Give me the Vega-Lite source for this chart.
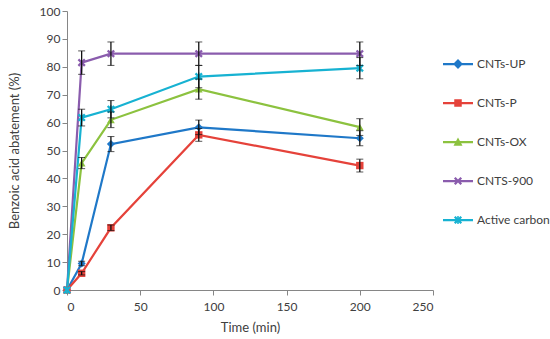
{
  "$schema": "https://vega.github.io/schema/vega-lite/v6.json",
  "autosize": {"type": "none"},
  "padding": {"left": 67, "top": 11, "right": 117, "bottom": 49},
  "width": 366,
  "height": 279,
  "background": "white",
  "config": {
    "view": {"stroke": null},
    "font": "Lato",
    "axis": {"grid": false, "domainColor": "#868686", "tickColor": "#868686", "labelColor": "#404040", "titleColor": "#404040", "labelFont": "Lato", "titleFont": "Lato", "labelFontSize": 12, "titleFontSize": 13, "titleFontWeight": "normal", "tickSize": 5},
    "legend": {
      "title": null, "orient": "none", "legendX": 376, "legendY": 38, "padding": 0,
      "labelFont": "Lato", "labelFontSize": 12, "labelColor": "#404040",
      "rowPadding": 18, "symbolSize": 900, "symbolStrokeWidth": 0, "labelOffset": 4,
      "symbolOpacity": 1, "symbolType": "M -1 -0.075 L 1 -0.075 L 1 0.075 L -1 0.075 Z"
    }
  },
  "data": {"values": [
    {"series": "CNTs-UP", "time": 0, "value": 0},
    {"series": "CNTs-UP", "time": 10, "value": 9.5, "lo": 8.7, "hi": 10.3},
    {"series": "CNTs-UP", "time": 30, "value": 52.3, "lo": 49.6, "hi": 55.0},
    {"series": "CNTs-UP", "time": 90, "value": 58.3, "lo": 55.7, "hi": 60.9},
    {"series": "CNTs-UP", "time": 200, "value": 54.4, "lo": 51.7, "hi": 57.1},
    {"series": "CNTs-P", "time": 0, "value": 0},
    {"series": "CNTs-P", "time": 10, "value": 6.0, "lo": 5.4, "hi": 6.6},
    {"series": "CNTs-P", "time": 30, "value": 22.3, "lo": 21.3, "hi": 23.3},
    {"series": "CNTs-P", "time": 90, "value": 55.6, "lo": 53.3, "hi": 57.9},
    {"series": "CNTs-P", "time": 200, "value": 44.6, "lo": 42.3, "hi": 46.9},
    {"series": "CNTs-OX", "time": 0, "value": 0},
    {"series": "CNTs-OX", "time": 10, "value": 45.5, "lo": 43.5, "hi": 47.5},
    {"series": "CNTs-OX", "time": 30, "value": 61.0, "lo": 58.2, "hi": 63.8},
    {"series": "CNTs-OX", "time": 90, "value": 72.0, "lo": 68.4, "hi": 75.6},
    {"series": "CNTs-OX", "time": 200, "value": 58.4, "lo": 55.4, "hi": 61.4},
    {"series": "CNTS-900", "time": 0, "value": 0},
    {"series": "CNTS-900", "time": 10, "value": 81.5, "lo": 77.3, "hi": 85.7},
    {"series": "CNTS-900", "time": 30, "value": 84.7, "lo": 80.5, "hi": 88.9},
    {"series": "CNTS-900", "time": 90, "value": 84.7, "lo": 80.5, "hi": 88.9},
    {"series": "CNTS-900", "time": 200, "value": 84.7, "lo": 80.5, "hi": 88.9},
    {"series": "Active carbon", "time": 0, "value": 0},
    {"series": "Active carbon", "time": 10, "value": 61.8, "lo": 58.8, "hi": 64.8},
    {"series": "Active carbon", "time": 30, "value": 64.8, "lo": 61.7, "hi": 67.9},
    {"series": "Active carbon", "time": 90, "value": 76.5, "lo": 72.5, "hi": 80.5},
    {"series": "Active carbon", "time": 200, "value": 79.5, "lo": 75.7, "hi": 83.3}
  ]},
  "encoding": {
    "x": {"field": "time", "type": "quantitative", "scale": {"domain": [0, 250], "nice": false}, "axis": {"values": [0, 50, 100, 150, 200, 250], "title": "Time (min)", "titlePadding": 9, "labelPadding": 6}},
    "y": {"field": "value", "type": "quantitative", "scale": {"domain": [0, 100], "nice": false}, "axis": {"values": [0, 10, 20, 30, 40, 50, 60, 70, 80, 90, 100], "title": "Benzoic acid abatement (%)", "titlePadding": 18}},
    "color": {"field": "series", "type": "nominal", "scale": {"domain": ["CNTs-UP", "CNTs-P", "CNTs-OX", "CNTS-900", "Active carbon"], "range": ["#1f78c8", "#e5423a", "#8cc23f", "#8a5cad", "#17b2d2"]}, "legend": {
      "encode": {"symbols": {"update": {
        "shape": {"signal": "'M -1 -0.075 L 1 -0.075 L 1 0.075 L -1 0.075 Z ' + (datum.value == 'CNTs-UP' ? 'M 0 -0.33 L 0.33 0 L 0 0.33 L -0.33 0 Z' : datum.value == 'CNTs-P' ? 'M -0.25 -0.25 L 0.25 -0.25 L 0.25 0.25 L -0.25 0.25 Z' : datum.value == 'CNTs-OX' ? 'M 0 -0.3 L 0.3 0.25 L -0.3 0.25 Z' : datum.value == 'CNTS-900' ? 'M -0.27 -0.162 L -0.162 -0.27 L 0 -0.108 L 0.162 -0.27 L 0.27 -0.162 L 0.108 0 L 0.27 0.162 L 0.162 0.27 L 0 0.108 L -0.162 0.27 L -0.27 0.162 L -0.108 0 Z' : 'M -0.27 -0.162 L -0.162 -0.27 L 0 -0.108 L 0.162 -0.27 L 0.27 -0.162 L 0.108 0 L 0.27 0.162 L 0.162 0.27 L 0 0.108 L -0.162 0.27 L -0.27 0.162 L -0.108 0 Z M -0.05 -0.27 L 0.05 -0.27 L 0.05 0.27 L -0.05 0.27 Z')"}
      }}}
    }}
  },
  "layer": [
    {"mark": {"type": "line", "strokeWidth": 2.2}},
    {"transform": [{"filter": "datum.series == 'CNTs-UP'"}], "mark": {"type": "point", "filled": true, "opacity": 1, "size": 65, "shape": "diamond"}},
    {"transform": [{"filter": "datum.series == 'CNTs-P'"}], "mark": {"type": "point", "filled": true, "opacity": 1, "size": 55, "shape": "square"}},
    {"transform": [{"filter": "datum.series == 'CNTs-OX'"}], "mark": {"type": "point", "filled": true, "opacity": 1, "size": 60, "shape": "triangle-up"}},
    {"transform": [{"filter": "datum.series == 'CNTS-900'"}], "mark": {"type": "point", "filled": true, "opacity": 1, "size": 65, "shape": "M -1 -0.6 L -0.6 -1 L 0 -0.4 L 0.6 -1 L 1 -0.6 L 0.4 0 L 1 0.6 L 0.6 1 L 0 0.4 L -0.6 1 L -1 0.6 L -0.4 0 Z"}},
    {"transform": [{"filter": "datum.series == 'Active carbon'"}], "mark": {"type": "point", "filled": true, "opacity": 1, "size": 65, "shape": "M -1 -0.6 L -0.6 -1 L 0 -0.4 L 0.6 -1 L 1 -0.6 L 0.4 0 L 1 0.6 L 0.6 1 L 0 0.4 L -0.6 1 L -1 0.6 L -0.4 0 Z M -0.18 -1 L 0.18 -1 L 0.18 1 L -0.18 1 Z"}},
    {
      "transform": [{"filter": "datum.lo != null"}],
      "mark": {"type": "errorbar", "ticks": {"size": 7, "color": "#111111", "strokeWidth": 1.3}, "rule": {"color": "#111111", "strokeWidth": 1.3}},
      "encoding": {
        "y": {"field": "lo", "type": "quantitative", "axis": {"values": [0, 10, 20, 30, 40, 50, 60, 70, 80, 90, 100], "title": "Benzoic acid abatement (%)", "titlePadding": 18}},
        "y2": {"field": "hi"},
        "color": null
      }
    }
  ]
}
